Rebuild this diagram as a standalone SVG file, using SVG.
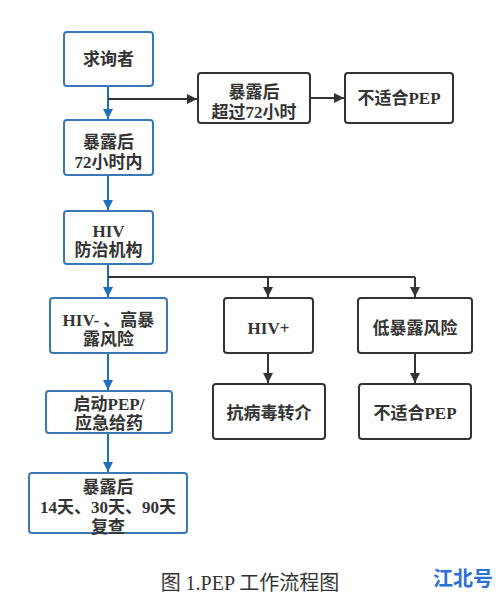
<svg xmlns="http://www.w3.org/2000/svg" width="500" height="596" viewBox="0 0 500 596">
<style>
.bb{fill:#fff;stroke:#3a78b5;stroke-width:2}
.kb{fill:#fff;stroke:#333;stroke-width:2}
.t{font-family:"Liberation Serif","Noto Sans CJK SC",serif;font-size:17px;font-weight:bold;fill:#333;text-anchor:middle}
.bl{stroke:#1f6fbf;stroke-width:2;fill:none}
.kl{stroke:#333;stroke-width:2;fill:none}
.cap{font-family:"Liberation Serif","Noto Sans CJK SC",serif;font-size:20px;fill:#333;text-anchor:middle}
.wm{font-family:"Noto Sans CJK SC",sans-serif;font-size:20px;font-weight:bold;fill:#2a6fd6}
</style>
<defs>
<marker id="ab" viewBox="0 0 10 10" refX="10" refY="5" markerWidth="10" markerHeight="10" markerUnits="userSpaceOnUse" orient="auto"><path d="M0,0L10,5L0,10z" fill="#1f6fbf"/></marker>
<marker id="ak" viewBox="0 0 10 10" refX="10" refY="5" markerWidth="10" markerHeight="10" markerUnits="userSpaceOnUse" orient="auto"><path d="M0,0L10,5L0,10z" fill="#333"/></marker>
</defs>
<rect width="500" height="596" fill="#fff"/>
<g id="connectors">
<path class="bl" d="M108,86V119" marker-end="url(#ab)"/>
<path class="kl" d="M108,99H197" marker-end="url(#ak)"/>
<path class="kl" d="M310,98H344" marker-end="url(#ak)"/>
<path class="bl" d="M108,175V210" marker-end="url(#ab)"/>
<path class="bl" d="M108,264V297" marker-end="url(#ab)"/>
<path class="kl" d="M108,277H415"/>
<path class="kl" d="M268,277V297" marker-end="url(#ak)"/>
<path class="kl" d="M415,277V297" marker-end="url(#ak)"/>
<path class="bl" d="M108,353V390" marker-end="url(#ab)"/>
<path class="kl" d="M268,353V383" marker-end="url(#ak)"/>
<path class="kl" d="M415,353V383" marker-end="url(#ak)"/>
<path class="bl" d="M108,433V472" marker-end="url(#ab)"/>
</g>
<g id="n1"><rect class="bb" x="64" y="32" width="89" height="54" rx="3"/><text class="t" x="108.5" y="65" font-size="18">求询者</text></g>
<g id="n2"><rect class="bb" x="64" y="120" width="89" height="55" rx="3"/><text class="t" x="108.5" y="148">暴露后</text><text class="t" x="108.5" y="168">72小时内</text></g>
<g id="n3"><rect class="bb" x="64" y="211" width="89" height="53" rx="3"/><text class="t" x="108.5" y="237">HIV</text><text class="t" x="108.5" y="256">防治机构</text></g>
<g id="n4"><rect class="kb" x="198" y="73" width="112" height="50" rx="3"/><text class="t" x="254" y="98">暴露后</text><text class="t" x="254" y="118">超过72小时</text></g>
<g id="n5"><rect class="kb" x="345" y="73" width="108" height="50" rx="3"/><text class="t" x="399" y="104">不适合PEP</text></g>
<g id="n6"><rect class="bb" x="50" y="298" width="117" height="55" rx="3"/><text class="t" x="108.5" y="326">HIV- 、高暴</text><text class="t" x="108.5" y="345">露风险</text></g>
<g id="n7"><rect class="kb" x="224" y="298" width="89" height="55" rx="3"/><text class="t" x="268.5" y="334">HIV+</text></g>
<g id="n8"><rect class="kb" x="358" y="298" width="114" height="55" rx="3"/><text class="t" x="415" y="334">低暴露风险</text></g>
<g id="n9"><rect class="bb" x="46" y="391" width="126" height="42" rx="3"/><text class="t" x="109" y="410">启动PEP/</text><text class="t" x="109" y="429">应急给药</text></g>
<g id="n10"><rect class="kb" x="213" y="384" width="112" height="55" rx="3"/><text class="t" x="269" y="419">抗病毒转介</text></g>
<g id="n11"><rect class="kb" x="359" y="384" width="112" height="55" rx="3"/><text class="t" x="415" y="419">不适合PEP</text></g>
<g id="n12"><rect class="bb" x="29" y="473" width="158" height="60" rx="3"/><text class="t" x="108" y="493">暴露后</text><text class="t" x="108" y="513">14天、30天、90天</text><text class="t" x="108" y="533">复查</text></g>
<text class="cap" x="250" y="590">图 1.PEP 工作流程图</text>
<text class="wm" x="433" y="586">江北号</text>
</svg>
